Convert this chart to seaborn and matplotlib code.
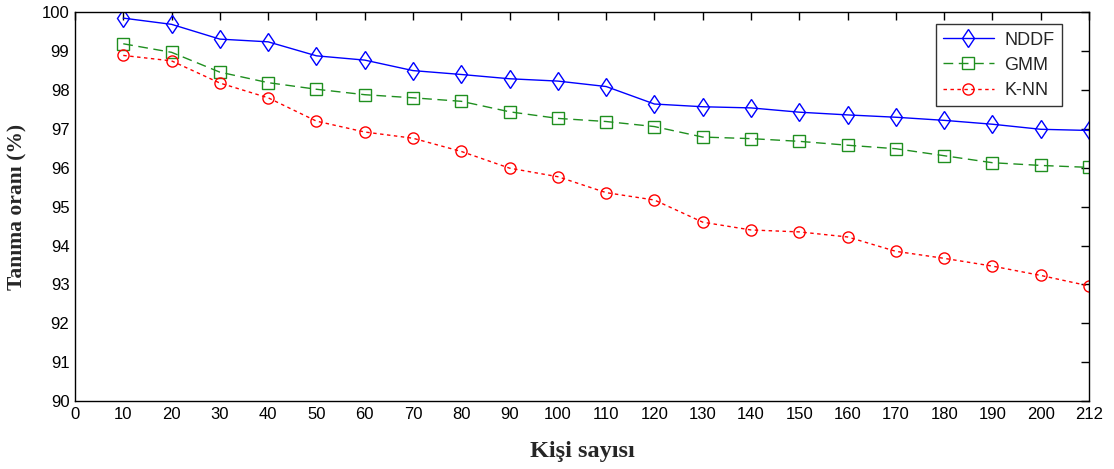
import matplotlib
matplotlib.use("Agg")
import matplotlib.pyplot as plt
import seaborn as sns
import pandas as pd
from matplotlib import font_manager

tick_labels = ["0", "10", "20", "30", "40", "50", "60", "70", "80", "90", "100",
               "110", "120", "130", "140", "150", "160", "170", "180", "190", "200", "212"]
kisi = ["10", "20", "30", "40", "50", "60", "70", "80", "90", "100",
        "110", "120", "130", "140", "150", "160", "170", "180", "190", "200", "212"]
nddf = [99.85, 99.69, 99.31, 99.24, 98.88, 98.77, 98.50, 98.40, 98.29, 98.23,
        98.09, 97.64, 97.57, 97.54, 97.43, 97.36, 97.30, 97.22, 97.12, 96.99, 96.96]
gmm = [99.19, 98.97, 98.46, 98.19, 98.02, 97.88, 97.80, 97.71, 97.44, 97.27,
       97.19, 97.06, 96.79, 96.75, 96.68, 96.58, 96.49, 96.31, 96.13, 96.06, 96.01]
knn = [98.89, 98.75, 98.18, 97.80, 97.20, 96.92, 96.76, 96.42, 95.99, 95.77,
       95.36, 95.17, 94.60, 94.40, 94.35, 94.22, 93.85, 93.67, 93.47, 93.23, 92.96]
series_names = ["NDDF", "GMM", "K-NN"]

sns.set_theme(style="white")
names = {f.name for f in font_manager.fontManager.ttflist}
tick_font = "Liberation Sans Narrow" if "Liberation Sans Narrow" in names else "Liberation Sans"
plt.rcParams["font.family"] = [tick_font, "DejaVu Sans"]

pos = list(range(1, len(kisi) + 1))
df = pd.DataFrame({"pos": pos * 3,
                   "val": nddf + gmm + knn,
                   "method": [series_names[0]] * len(pos) + [series_names[1]] * len(pos) + [series_names[2]] * len(pos)})

fig = plt.figure(figsize=(11.14, 4.69), dpi=100)
ax = fig.add_axes([0.0673, 0.145, 0.9103, 0.8288])

styles = {
    "NDDF": dict(color="#0000ff", marker="d", ms=9.5, dashes=None),
    "GMM": dict(color="#1f8f1f", marker="s", ms=8, dashes=(7, 4)),
    "K-NN": dict(color="#ff0000", marker="o", ms=8, dashes=(2.5, 2.5)),
}
for name in series_names:
    st = styles[name]
    sub = df[df["method"] == name]
    sns.lineplot(data=sub, x="pos", y="val", ax=ax, color=st["color"],
                 marker=st["marker"], markersize=st["ms"],
                 markerfacecolor="none", markeredgecolor=st["color"],
                 markeredgewidth=1.0, linewidth=1.0, label=name)
    l = ax.get_lines()[-1]
    if st["dashes"] is not None:
        l.set_dashes(st["dashes"])

ax.set_xlim(0, 21)
ax.set_ylim(90, 100)
ax.set_xticks(range(0, 22))
ax.set_xticklabels(tick_labels)
ax.set_yticks(range(90, 101))
ax.set_yticklabels([str(v) for v in range(90, 101)])
ax.tick_params(direction="in", length=6, width=1, top=True, right=True,
               labelsize=12, colors="black", pad=4)
for sp in ax.spines.values():
    sp.set_visible(True)
    sp.set_color("black")
    sp.set_linewidth(1.0)

ax.set_xlabel("Kişi sayısı", fontsize=17.5, fontweight="bold",
              family=["Liberation Serif", "DejaVu Serif"], labelpad=14)
ax.set_ylabel("Tanıma oranı (%)", fontsize=15.5, fontweight="bold",
              family=["Liberation Serif", "DejaVu Serif"], labelpad=10)

leg = ax.legend(loc="upper right", bbox_to_anchor=(0.982, 0.992), frameon=True,
                fancybox=False, edgecolor="black", fontsize=13, handlelength=2.8,
                borderpad=0.4, labelspacing=0.45, handletextpad=0.6)
leg.get_frame().set_linewidth(1.0)

fig.savefig("out.png", dpi=100)
